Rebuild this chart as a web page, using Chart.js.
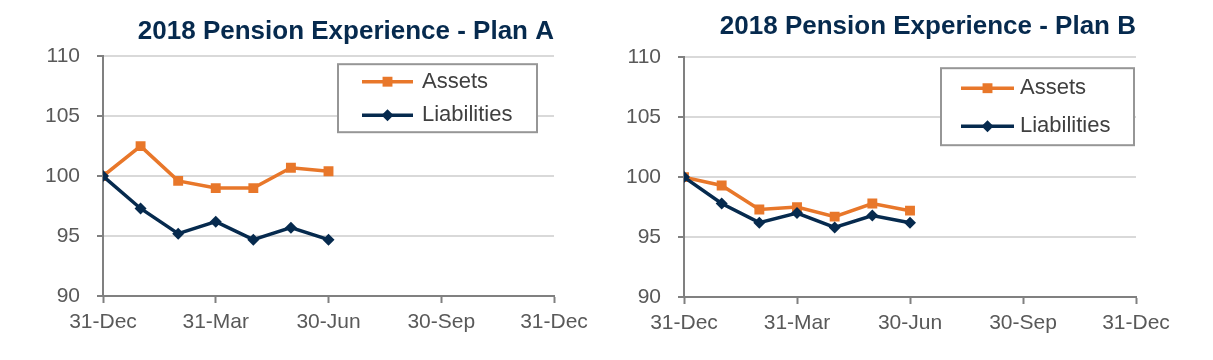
<!DOCTYPE html>
<html>
<head>
<meta charset="utf-8">
<script src="https://cdn.jsdelivr.net/npm/chart.js@4.4.0/dist/chart.umd.min.js"></script>
<style>
  body { margin: 0; background: #fff; }
  .wrap { position: absolute; top: 0; height: 360px; }
</style>
</head>
<body>
<div class="wrap" style="left:0;width:606px"><canvas id="planA" width="606" height="360"></canvas></div>
<div class="wrap" style="left:606px;width:607px"><canvas id="planB" width="607" height="360"></canvas></div>
<script>
// month-ends counted from 31-Dec-2017
const months = [0, 1, 2, 3, 4, 5, 6]
const tickLabels = ['31-Dec', '31-Mar', '30-Jun', '30-Sep', '31-Dec']
const seriesNames = ['Assets', 'Liabilities']

const assetsA = [100, 102.5, 99.6, 99.0, 99.0, 100.7, 100.4]
const liabilitiesA = [100, 97.3, 95.2, 96.2, 94.7, 95.7, 94.7]
const assetsB = [100, 99.3, 97.3, 97.5, 96.7, 97.8, 97.2]
const liabilitiesB = [100, 97.8, 96.2, 97.0, 95.8, 96.8, 96.2]

const orange = '#E8772A'
const navy = '#062A4E'
const axisGrey = '#808080'
const labelGrey = '#595959'

Chart.defaults.font.family = "'Liberation Sans', Arial, sans-serif"

// bordered legend sitting inside the plot area, like the spreadsheet one
const boxLegend = {
  id: 'boxLegend',
  afterDraw(chart, args, o) {
    const { ctx, chartArea } = chart
    const x = chartArea.left + o.x
    const y = chartArea.top + o.y
    ctx.save()
    ctx.fillStyle = '#fff'
    ctx.fillRect(x, y, o.w, o.h)
    ctx.strokeStyle = '#969696'
    ctx.lineWidth = 2
    ctx.strokeRect(x, y, o.w, o.h)
    ctx.font = o.fontSize + "px 'Liberation Sans', Arial, sans-serif"
    ctx.textBaseline = 'middle'
    chart.data.datasets.forEach((ds, i) => {
      const ry = y + o.rows[i]
      ctx.strokeStyle = ds.borderColor
      ctx.lineWidth = 3.5
      ctx.beginPath()
      ctx.moveTo(x + o.lineStart, ry)
      ctx.lineTo(x + o.lineEnd, ry)
      ctx.stroke()
      ctx.fillStyle = ds.borderColor
      Chart.helpers.drawPoint(ctx, { pointStyle: ds.pointStyle, radius: ds.pointRadius, borderWidth: 0 },
        x + (o.lineStart + o.lineEnd) / 2, ry)
      ctx.fillStyle = '#404040'
      ctx.fillText(ds.label, x + o.textX, ry)
    })
    ctx.restore()
  }
}

function makeChart(id, title, assets, liabilities, cfg) {
  const pts = vals => months.map((m, i) => ({ x: m, y: vals[i] }))
  return new Chart(document.getElementById(id), {
    type: 'line',
    data: {
      datasets: [
        {
          label: seriesNames[0],
          data: pts(assets),
          borderColor: orange,
          backgroundColor: orange,
          borderWidth: 3.5,
          pointStyle: 'rect',
          pointRadius: 7,
          pointBorderWidth: 0,
          order: 1
        },
        {
          label: seriesNames[1],
          data: pts(liabilities),
          borderColor: navy,
          backgroundColor: navy,
          borderWidth: 3.5,
          pointStyle: 'rectRot',
          pointRadius: 6,
          pointBorderWidth: 0,
          order: 0
        }
      ]
    },
    options: {
      responsive: false,
      animation: false,
      layout: { padding: { left: 0, right: cfg.padRight, top: 0, bottom: 0 } },
      plugins: {
        legend: { display: false },
        tooltip: { enabled: false },
        title: {
          display: true,
          text: title,
          align: 'end',
          color: navy,
          font: { size: 26, weight: 'bold' },
          padding: cfg.titlePad
        },
        boxLegend: cfg.legend
      },
      scales: {
        x: {
          type: 'linear',
          min: 0,
          max: 12,
          afterFit: s => { s.height = cfg.xHeight },
          ticks: {
            stepSize: 3,
            color: labelGrey,
            font: { size: 21 },
            padding: 7,
            maxRotation: 0,
            autoSkip: false,
            callback: v => tickLabels[v / 3]
          },
          grid: { drawOnChartArea: false, tickLength: 7, tickColor: axisGrey, tickWidth: 2 },
          border: { color: axisGrey, width: 2 }
        },
        y: {
          min: 90,
          max: 110,
          afterFit: s => { s.width = cfg.yWidth },
          ticks: { stepSize: 5, color: labelGrey, font: { size: 21 }, padding: 17 },
          grid: { color: '#d9d9d9', lineWidth: 2, tickLength: 6, tickColor: axisGrey, tickWidth: 2 },
          border: { color: axisGrey, width: 2 }
        }
      }
    },
    plugins: [boxLegend]
  })
}

makeChart('planA', '2018 Pension Experience - Plan A', assetsA, liabilitiesA, {
  padRight: 52, yWidth: 103, xHeight: 64,
  titlePad: { top: 16, bottom: 9 },
  legend: { x: 235, y: 8, w: 199, h: 68, rows: [17.5, 51], lineStart: 24, lineEnd: 75, textX: 84, fontSize: 22 }
})

makeChart('planB', '2018 Pension Experience - Plan B', assetsB, liabilitiesB, {
  padRight: 77, yWidth: 78, xHeight: 63,
  titlePad: { top: 11, bottom: 15 },
  legend: { x: 257, y: 11, w: 193, h: 77, rows: [20, 58], lineStart: 20, lineEnd: 73, textX: 79, fontSize: 22 }
})
</script>
</body>
</html>
